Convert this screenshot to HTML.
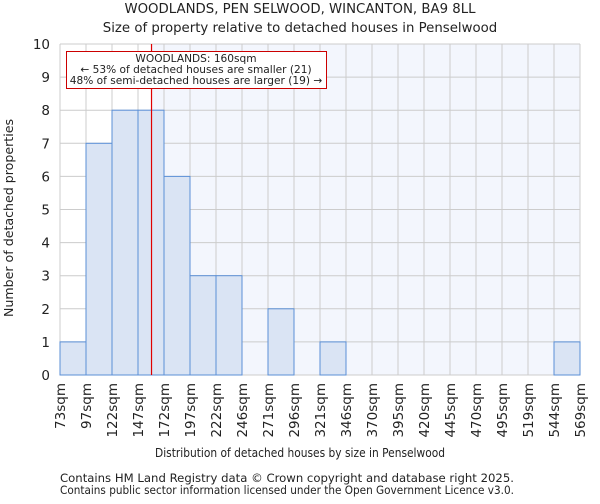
<!DOCTYPE html>
<html><head><meta charset="utf-8"><style>
body{margin:0;background:#fff;font-family:"DejaVu Sans","Liberation Sans",sans-serif}
svg text{font-family:"DejaVu Sans","Liberation Sans",sans-serif;fill:#222}
</style></head><body>
<svg id="c" width="600" height="500" xmlns="http://www.w3.org/2000/svg">
<text x="300" y="13" font-size="13.3" text-anchor="middle">WOODLANDS, PEN SELWOOD, WINCANTON, BA9 8LL</text>
<text x="300" y="32" font-size="13.3" text-anchor="middle">Size of property relative to detached houses in Penselwood</text>
<g id="plot"></g>
<text x="300" y="457" font-size="12.8" text-anchor="middle" textLength="290" lengthAdjust="spacingAndGlyphs">Distribution of detached houses by size in Penselwood</text>
<text x="13" y="218" font-size="12.6" text-anchor="middle" transform="rotate(-90 13 218)">Number of detached properties</text>
<text x="60" y="482" font-size="11.1" textLength="454" lengthAdjust="spacingAndGlyphs">Contains HM Land Registry data © Crown copyright and database right 2025.</text>
<text x="60" y="494" font-size="11.1" textLength="454" lengthAdjust="spacingAndGlyphs">Contains public sector information licensed under the Open Government Licence v3.0.</text>
</svg>
<script>
const binLabels=["73sqm","97sqm","122sqm","147sqm","172sqm","197sqm","222sqm","246sqm","271sqm","296sqm","321sqm","346sqm","370sqm","395sqm","420sqm","445sqm","470sqm","495sqm","519sqm","544sqm","569sqm"];
const binEdges=[73,97,122,147,172,197,222,246,271,296,321,346,370,395,420,445,470,495,519,544,569];
const counts=[1,7,8,8,6,3,3,0,2,0,1,0,0,0,0,0,0,0,0,1];
const yTicks=[0,1,2,3,4,5,6,7,8,9,10];
const markerValue=160;
const NS="http://www.w3.org/2000/svg";
const X0=60,X1=580,Y0=375,Y1=44,YMAX=10;
const nb=counts.length,bw=(X1-X0)/nb;
const xi=i=>X0+i*bw;
const xv=v=>{let i=0;while(i<nb-1&&v>binEdges[i+1])i++;return xi(i)+(v-binEdges[i])/(binEdges[i+1]-binEdges[i])*bw;};
const y=v=>Y0-(v/YMAX)*(Y0-Y1);
const g=document.getElementById('plot');
function mk(t,a){const e=document.createElementNS(NS,t);for(const k in a)e.setAttribute(k,a[k]);g.appendChild(e);return e;}
const mx=xv(markerValue);
let e=mk('rect',{x:mx,y:Y1,width:X1-mx,height:Y0-Y1,fill:'#f3f6fd'});


yTicks.forEach(t=>{
 let l=mk('line',{x1:X0,x2:X1,y1:y(t),y2:y(t),stroke:'#ccc','stroke-width':1});
 
 
 let tx=mk('text',{x:X0-10,y:y(t)+5,'font-size':13.5,'text-anchor':'end'});tx.textContent=t;
 
 
});
binLabels.forEach((lb,i)=>{
 let l=mk('line',{x1:xi(i),x2:xi(i),y1:Y1,y2:Y0,stroke:'#ccc','stroke-width':1});
 
 
 let tx=mk('text',{x:0,y:0,'font-size':13.5,'text-anchor':'end',transform:`translate(${xi(i)+5},${Y0+8}) rotate(-90)`});tx.textContent=lb;
 
 
});
counts.forEach((c,i)=>{
 if(!c)return;
 let r=mk('rect',{x:xi(i),y:y(c),width:bw,height:Y0-y(c),fill:'#dae4f4',stroke:'#5b8fd6','stroke-width':1});
 
 
});
let ml=mk('line',{x1:mx,x2:mx,y1:Y1,y2:Y0,stroke:'#e00000','stroke-width':1.2});


let bx=mk('rect',{x:66.5,y:51.5,width:260,height:37,fill:'#fff',stroke:'#cc0000','stroke-width':1});


[["WOODLANDS: 160sqm",62],["← 53% of detached houses are smaller (21)",73],["48% of semi-detached houses are larger (19) →",84]].forEach(([s,yy])=>{
 let t=mk('text',{x:196,y:yy,'font-size':10.6,'text-anchor':'middle'});t.textContent=s;
 
 
});
</script>
</body></html>
